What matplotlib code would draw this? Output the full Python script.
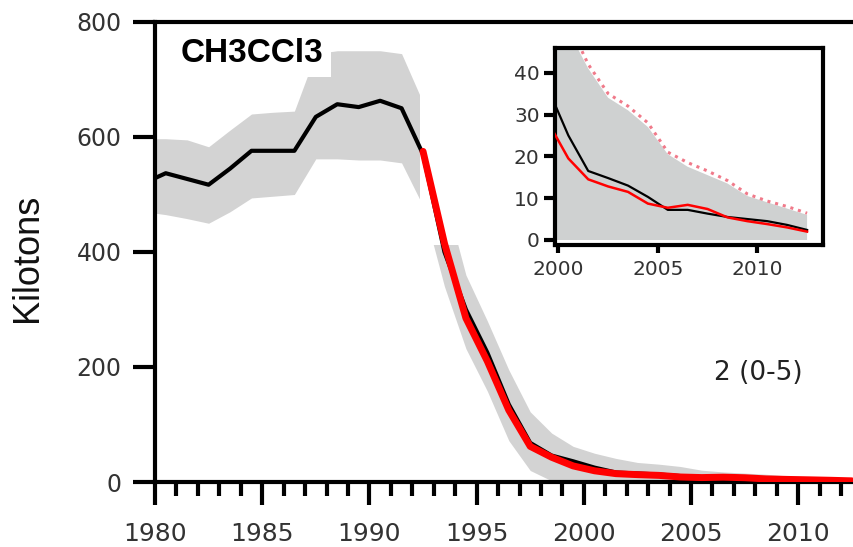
import numpy as np
import matplotlib.pyplot as plt
from matplotlib.patches import Rectangle
from matplotlib.ticker import MultipleLocator

# mid-year points
years = [1979.5, 1980.5, 1981.5, 1982.5, 1983.5, 1984.5, 1985.5, 1986.5,
         1987.5, 1988.5, 1989.5, 1990.5, 1991.5, 1992.5, 1993.5, 1994.5,
         1995.5, 1996.5, 1997.5, 1998.5, 1999.5, 2000.5, 2001.5, 2002.5,
         2003.5, 2004.5, 2005.5, 2006.5, 2007.5, 2008.5, 2009.5, 2010.5,
         2011.5, 2012.5]

# black: emissions estimate (kilotons)
black = [520, 537, 527, 517, 545, 576, 576, 576,
         635, 657, 652, 663, 650, 570, 400, 300,
         225, 135, 68, 46, 36, 25, 16.5, 14.8,
         13.0, 10.3, 7.2, 7.2, 6.3, 5.5, 5.0, 4.5,
         3.6, 2.4]

# uncertainty band
band_hi = [597, 597, 595, 583, 612, 640, 643, 645,
           745, 750, 750, 750, 745, 660, 500, 360,
           280, 195, 122, 85, 62, 50, 41, 34,
           31, 27, 20.5, 17.5, 15.5, 13.5, 10.5, 9.0,
           7.5, 6.0]
band_lo = [470, 465, 458, 450, 470, 494, 497, 500,
           562, 562, 560, 560, 555, 480, 340, 232,
           158, 72, 20, 2, 0, 0, 0, 0,
           0, 0, 0, 0, 0, 0, 0, 0,
           0, 0]

# red: second estimate, from 1992.5
red_years = years[13:]
red = [575, 415, 285, 210, 125, 62, 43, 28, 19.5, 14.5,
       12.8, 11.5, 8.7, 7.7, 8.4, 7.4, 5.4, 4.5, 3.8, 3.0, 2.0]

# dotted upper line in the inset
dot_years = years[21:]
dotted = [52, 42, 35, 32, 28, 21, 18.5, 16.5, 14.2, 11.0, 9.3, 8.0, 6.4]

W, H = 854, 547
fig = plt.figure(figsize=(W / 100, H / 100), dpi=100)
ax = fig.add_axes([155 / W, 1 - 482 / H, 699 / W, 460 / H])

ax.fill_between(years, band_lo, band_hi, color='#d3d3d3', lw=0, zorder=1)
# white backing of the inset panel
ax.add_patch(Rectangle((0.379, 0.515), 0.621, 0.48, transform=ax.transAxes,
                       color='white', lw=0, zorder=1.5))
ax.plot(years, black, color='black', lw=3, zorder=3, solid_joinstyle='round')
ax.plot(red_years, red, color='#ff0000', lw=5, zorder=4, solid_capstyle='round')

ax.set_xlim(1980, 2012.6)
ax.set_ylim(0, 800)
ax.set_yticks([0, 200, 400, 600, 800])
ax.xaxis.set_major_locator(MultipleLocator(5))
ax.xaxis.set_minor_locator(MultipleLocator(1))
ax.spines['right'].set_visible(False)
for s in ['left', 'bottom', 'top']:
    ax.spines[s].set_linewidth(3)
ax.tick_params(axis='x', which='major', direction='out', length=16.5, width=3,
               pad=12, labelsize=18, labelcolor='#333333')
ax.tick_params(axis='x', which='minor', direction='out', length=10, width=3)
ax.tick_params(axis='y', direction='out', length=16, width=3, pad=8,
               labelsize=17, labelcolor='#333333')

ax.text(0.036, 0.913, 'CH3CCl3', transform=ax.transAxes, family='Liberation Sans',
        fontsize=24, fontweight='bold', va='baseline', ha='left', zorder=6,
        bbox=dict(facecolor='white', edgecolor='none', pad=6))
ax.text(0.799, 0.238, '2 (0-5)', transform=ax.transAxes, fontsize=19,
        color='#222222', va='center', ha='left')
fig.text(28 / W, 1 - 258 / H, 'Kilotons', rotation=90, family='Liberation Sans',
         fontsize=26, va='center', ha='center', color='#111111')

# inset
ins = fig.add_axes([555 / W, 1 - 245 / H, 268 / W, 197 / H])
ins.fill_between(years, band_lo, band_hi, color='#cfd1d1', lw=0, zorder=1)
ins.plot(dot_years, dotted, color='#f07a8a', lw=2.2, ls=(0, (1, 1.6)), zorder=2)
ins.plot(years, black, color='black', lw=1.6, zorder=3)
ins.plot(red_years, red, color='#ff0000', lw=1.8, zorder=4)
ins.set_xlim(1999.83, 2013.3)
ins.set_ylim(-1.2, 45.9)
ins.set_xticks([2000, 2005, 2010])
ins.set_yticks([0, 10, 20, 30, 40])
for s in ins.spines.values():
    s.set_linewidth(3)
ins.tick_params(axis='x', direction='out', length=6, width=3, pad=5,
                labelsize=14.5, labelcolor='#333333')
ins.tick_params(axis='y', direction='out', length=8, width=3, pad=3,
                labelsize=14.5, labelcolor='#333333')

fig.savefig('out.png', dpi=100)
